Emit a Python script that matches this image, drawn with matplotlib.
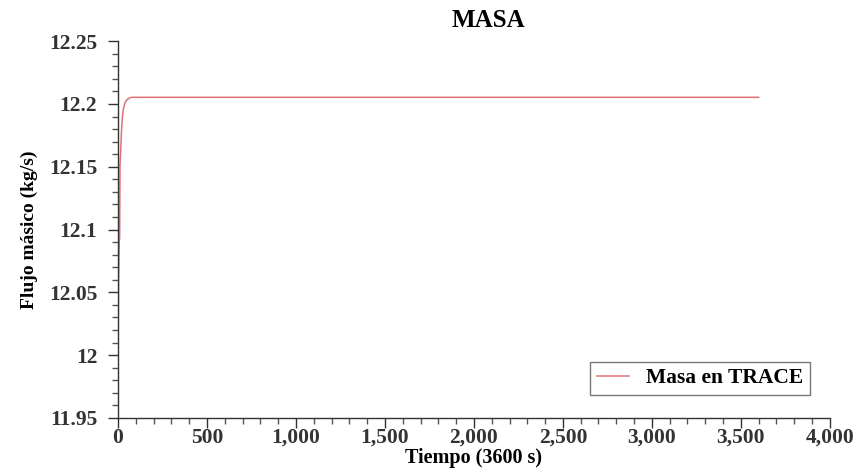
import numpy as np
import matplotlib.pyplot as plt
from matplotlib.ticker import MultipleLocator, FuncFormatter

# mass flow history from the TRACE run
tiempo = [0, 3, 6, 7, 9, 11, 14, 17, 20, 24, 30, 37, 45, 55, 65, 75, 90, 3600]
flujo = [12.0, 12.06, 12.085, 12.091, 12.093, 12.151, 12.160, 12.170, 12.180,
         12.189, 12.196, 12.200, 12.2025, 12.204, 12.2048, 12.2053, 12.2053, 12.2053]

plt.rcParams['font.family'] = ['Liberation Serif', 'DejaVu Serif']
plt.rcParams['font.weight'] = 'bold'

fig = plt.figure(figsize=(8.68, 4.68), dpi=100)
ax = fig.add_axes([0.136, 0.107, 0.82, 0.805])

ax.plot(tiempo, flujo, color='#e0707a', lw=1.1, label='Masa en TRACE')

ax.set_xlim(0, 4000)
ax.set_ylim(11.95, 12.25)
ax.xaxis.set_major_locator(MultipleLocator(500))
ax.xaxis.set_minor_locator(MultipleLocator(100))
ax.yaxis.set_major_locator(MultipleLocator(0.05))
ax.yaxis.set_minor_locator(MultipleLocator(0.01))
ax.xaxis.set_major_formatter(FuncFormatter(lambda v, p: f'{v:,.0f}'))
ax.yaxis.set_major_formatter(FuncFormatter(lambda v, p: f'{v:.2f}'.rstrip('0').rstrip('.')))

for s in ['top', 'right']:
    ax.spines[s].set_visible(False)
for s in ['left', 'bottom']:
    ax.spines[s].set_color('#333333')
    ax.spines[s].set_linewidth(1.0)

ax.tick_params(axis='both', which='major', length=7, width=1, colors='#333333',
               labelsize=15.5, labelcolor='#333333')
ax.tick_params(axis='both', which='minor', length=4, width=1, colors='#555555')
ax.tick_params(axis='x', pad=0)
ax.tick_params(axis='y', pad=8)

ax.set_title('MASA', fontsize=18, fontweight='bold', pad=10, x=0.52)
ax.set_xlabel('Tiempo (3600 s)', fontsize=14.5, fontweight='bold', labelpad=0.5)
ax.set_ylabel('Flujo másico (kg/s)', fontsize=14, fontweight='bold', labelpad=8)

leg = ax.legend(loc='lower right', bbox_to_anchor=(0.972, 0.061), fancybox=False,
                edgecolor='#555555', fontsize=15.5, handlelength=1.5,
                borderpad=0.3, handletextpad=0.8, borderaxespad=0)
leg.get_frame().set_linewidth(1.0)

fig.savefig('out.png', dpi=100)
